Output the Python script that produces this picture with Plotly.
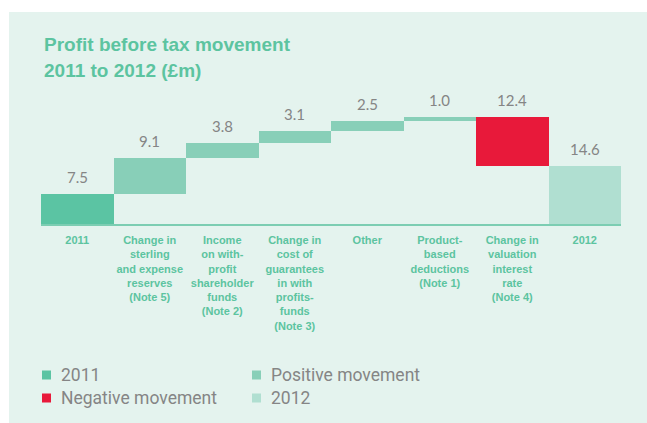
import plotly.graph_objects as go

# ---- data ----
categories = [
    "2011",
    "Change in<br>sterling<br>and expense<br>reserves<br>(Note 5)",
    "Income<br>on with-<br>profit<br>shareholder<br>funds<br>(Note 2)",
    "Change in<br>cost of<br>guarantees<br>in with<br>profits-<br>funds<br>(Note 3)",
    "Other",
    "Product-<br>based<br>deductions<br>(Note 1)",
    "Change in<br>valuation<br>interest<br>rate<br>(Note 4)",
    "2012",
]
values = [7.5, 9.1, 3.8, 3.1, 2.5, 1.0, -12.4, 14.6]
kinds = ["start", "pos", "pos", "pos", "pos", "pos", "neg", "end"]
legend_labels = ["2011", "Positive movement", "Negative movement", "2012"]
legend_kinds = ["start", "pos", "neg", "end"]

# ---- styles ----
colors = {"start": "#5bc4a3", "pos": "#88cfb8", "neg": "#e8193a", "end": "#b0dfd1"}
PANEL = "#e4f3ee"
GREEN_TXT = "#5cc4a0"
GRAY_TXT = "#858585"

W, H = 647, 423
ML, MR, MT, MB = 41, 26, 100, 199
PW = W - ML - MR
PH = H - MT - MB


def px_x(p):
    return (p - ML) / PW


def px_y(p):
    return (H - MB - p) / PH


# waterfall bases from the data
bases = []
running = 0.0
for v, k in zip(values, kinds):
    if k in ("start", "end"):
        bases.append(0.0)
        running = v
    else:
        bases.append(running)
        running += v

idx = list(range(len(categories)))

fig = go.Figure()
fig.add_trace(go.Bar(
    x=idx,
    y=values,
    base=bases,
    marker=dict(color=[colors[k] for k in kinds], line=dict(width=0)),
    width=1.0,
    hoverinfo="skip",
    showlegend=False,
))

annotations = []
for i, v, b in zip(idx, values, bases):
    top = max(b, b + v)
    annotations.append(dict(
        x=i, y=top, xref="x", yref="y", text=f"{abs(v):.1f}",
        showarrow=False, yshift=17, yanchor="middle",
        font=dict(family="Lato", size=15, color=GRAY_TXT),
    ))

# title
annotations.append(dict(
    x=px_x(42), y=px_y(45), xref="paper", yref="paper", xanchor="left", yanchor="middle",
    text="<b>Profit before tax movement</b>", showarrow=False,
    font=dict(family="Liberation Sans", size=19, color=GREEN_TXT),
))
annotations.append(dict(
    x=px_x(42), y=px_y(70), xref="paper", yref="paper", xanchor="left", yanchor="middle",
    text="<b>2011 to 2012 (£m)</b>", showarrow=False,
    font=dict(family="Liberation Sans", size=19, color=GREEN_TXT),
))

shapes = [dict(
    type="rect", xref="paper", yref="paper", layer="below",
    x0=px_x(9), x1=px_x(W + 2), y0=px_y(12), y1=px_y(H + 2),
    fillcolor=PANEL, line=dict(width=0),
)]

# legend (manual)
leg_pos = [(42, 375), (252, 375), (42, 398), (252, 398)]
for lab, k, (lx, ly) in zip(legend_labels, legend_kinds, leg_pos):
    shapes.append(dict(
        type="rect", xref="paper", yref="paper",
        x0=px_x(lx), x1=px_x(lx + 9), y0=px_y(ly - 4.5), y1=px_y(ly + 4.5),
        fillcolor=colors[k], line=dict(width=0),
    ))
    annotations.append(dict(
        x=px_x(lx + 17), y=px_y(ly), xref="paper", yref="paper",
        xanchor="left", yanchor="middle", text=lab, showarrow=False,
        font=dict(family="Roboto", size=17.5, color=GRAY_TXT),
    ))

fig.update_layout(
    width=W, height=H,
    margin=dict(l=ML, r=MR, t=MT, b=MB, pad=0),
    paper_bgcolor="white",
    plot_bgcolor=PANEL,
    bargap=0,
    showlegend=False,
    annotations=annotations,
    shapes=shapes,
    xaxis=dict(
        tickmode="array", tickvals=idx, ticktext=categories,
        range=[-0.5, 7.5], showgrid=False, zeroline=False,
        showline=True, linecolor="#7ccdb2", linewidth=1.5, ticks="",
        ticklabelstandoff=5,
        tickfont=dict(family="Liberation Sans", size=11, color=GREEN_TXT, weight="bold"),
        fixedrange=True,
    ),
    yaxis=dict(range=[0, 31.4], visible=False, fixedrange=True),
)

fig.write_html("out.html")
